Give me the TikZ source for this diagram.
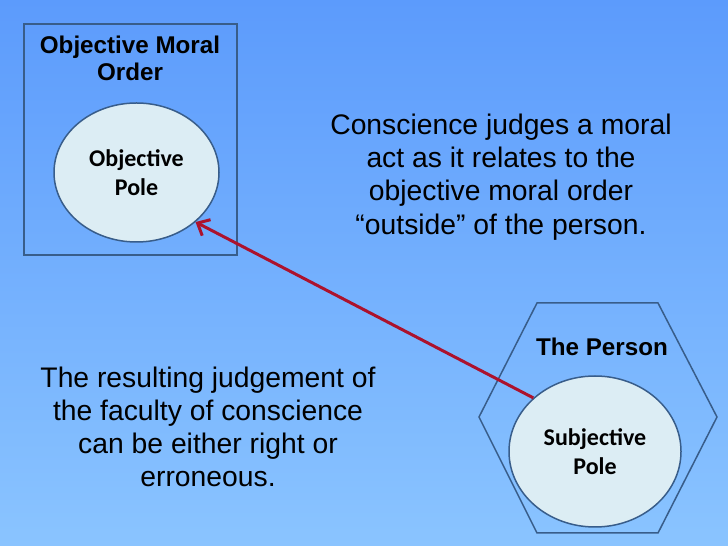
\documentclass[tikz,border=0pt]{standalone}
\usepackage{fontspec}
\setmainfont{Liberation Sans}
\newfontfamily\calibri{Carlito}
\usetikzlibrary{arrows.meta}
\usetikzlibrary{shapes.geometric}
\definecolor{bgtop}{RGB}{92,155,252}
\definecolor{bgbot}{RGB}{138,196,255}
\definecolor{framecol}{RGB}{56,93,138}
\definecolor{polefill}{RGB}{220,237,244}
\definecolor{arrowcol}{RGB}{172,18,45}

\begin{document}
\begin{tikzpicture}[x=0.5pt,y=0.5pt,
    frame/.style={draw=framecol,line width=0.75pt},
    pole/.style={ellipse,draw=framecol,line width=0.75pt,fill=polefill,
      font=\calibri\bfseries\fontsize{12}{14.5}\selectfont,align=center,inner sep=0pt},
    heading/.style={font=\bfseries\fontsize{12.1}{13.5}\selectfont,align=center,inner sep=0pt},
    body/.style={font=\fontsize{14.15}{16.6}\selectfont,align=center,inner sep=0pt}]
      % background
      \useasboundingbox (0,0) rectangle (728,546);
      \shade[top color=bgtop,bottom color=bgbot] (0,0) rectangle (728,546);

      % objective moral order
      \draw[frame] (24,291) rectangle (237,522);
      \node[heading] (ordertitle) at (130,487.5) {Objective Moral\\Order};
      \node[pole,minimum width=82.5pt,minimum height=69.5pt] (objpole) at (136.5,373.5) {Objective\\Pole};

      % the person
      \draw[frame] (479,129) -- (537,243) -- (658,243) -- (717,129) -- (658,13) -- (537,13) -- cycle;
      \node[heading] (persontitle) at (602,199) {The Person};
      \node[pole,minimum width=86pt,minimum height=75.5pt] (subjpole) at (595,94.5) {Subjective\\Pole};

      % judgement
      \draw[arrowcol,line width=1.5pt,-{Straight Barb[length=5pt,width=9pt]}] (subjpole.139) -- (objpole.-40);

      % texts
      \node[body] (judgetext) at (501,369) {Conscience judges a moral\\act as it relates to the\\objective moral order\\“outside” of the person.};
      \node[body] (resulttext) at (208,119) {The resulting judgement of\\the faculty of conscience\\can be either right or\\erroneous.};
    \end{tikzpicture}
\end{document}
